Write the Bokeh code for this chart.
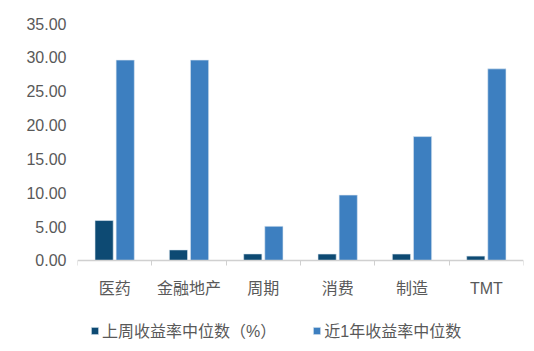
from bokeh.plotting import figure
from bokeh.models import ColumnDataSource, FixedTicker, NumeralTickFormatter, Legend, LegendItem, Range1d
from bokeh.transform import dodge
from bokeh.embed import file_html
from bokeh.resources import INLINE

categories = ["医药", "金融地产", "周期", "消费", "制造", "TMT"]
last_week = [5.90, 1.56, 0.97, 0.95, 0.95, 0.65]
last_year = [29.6, 29.6, 5.05, 9.66, 18.3, 28.3]
series_names = ["上周收益率中位数（%）", "近1年收益率中位数"]
y_ticks = [0, 5, 10, 15, 20, 25, 30, 35]

xs = [i + 0.5 for i in range(len(categories))]
src = ColumnDataSource(dict(x=xs, a=last_week, b=last_year, cat=categories))

FONT = "Arial, 'Liberation Sans', 'Noto Sans CJK SC'"
DARK = "#0d4a73"
LIGHT = "#3d7fc0"

# frame runs to the bottom of the canvas; the x axis is pinned at y = 0
p = figure(width=534, height=351, output_backend="svg", toolbar_location=None,
           x_range=Range1d(0, len(categories)), y_range=Range1d(-13.44, 35),
           min_border_left=77, min_border_right=11, min_border_top=23, min_border_bottom=0)
p.outline_line_color = None
p.grid.visible = False
p.background_fill_color = "white"
p.border_fill_color = "white"

r1 = p.vbar(x=dodge("x", -0.142, range=p.x_range), top="a", width=0.245, source=src,
            fill_color=DARK, line_color="#dfe9f2", line_width=0.6)
r2 = p.vbar(x=dodge("x", 0.142, range=p.x_range), top="b", width=0.245, source=src,
            fill_color=LIGHT, line_color="#dfe9f2", line_width=0.6)

xa = p.xaxis[0]
xa.fixed_location = 0
xa.ticker = FixedTicker(ticks=xs, minor_ticks=list(range(len(categories) + 1)))
xa.major_label_overrides = {x: c for x, c in zip(xs, categories)}
xa.major_tick_line_color = None
xa.major_tick_out = 0
xa.major_tick_in = 0
xa.minor_tick_out = 5
xa.minor_tick_in = 0
xa.minor_tick_line_color = "#d0d0d0"
xa.axis_line_color = "#d0d0d0"
xa.axis_line_width = 1.5
xa.major_label_standoff = 15
xa.major_label_text_font = FONT
xa.major_label_text_font_size = "16px"
xa.major_label_text_color = "#595959"

ya = p.yaxis[0]
ya.ticker = FixedTicker(ticks=y_ticks)
ya.formatter = NumeralTickFormatter(format="0.00")
ya.axis_line_color = None
ya.major_tick_line_color = None
ya.major_tick_out = 0
ya.major_tick_in = 0
ya.minor_tick_line_color = None
ya.major_label_standoff = 11
ya.major_label_text_font = FONT
ya.major_label_text_font_size = "16px"
ya.major_label_text_color = "#595959"

legend = Legend(items=[LegendItem(label=series_names[0], renderers=[r1]),
                       LegendItem(label=series_names[1], renderers=[r2])],
                orientation="horizontal", location=(13, 9),
                glyph_width=9, glyph_height=9, label_standoff=3, spacing=36,
                padding=0, margin=0, border_line_color=None, background_fill_alpha=0,
                label_text_font=FONT, label_text_font_size="16px", label_text_color="#595959")
p.add_layout(legend, "center")

open("out.html", "w").write(file_html(p, INLINE))
